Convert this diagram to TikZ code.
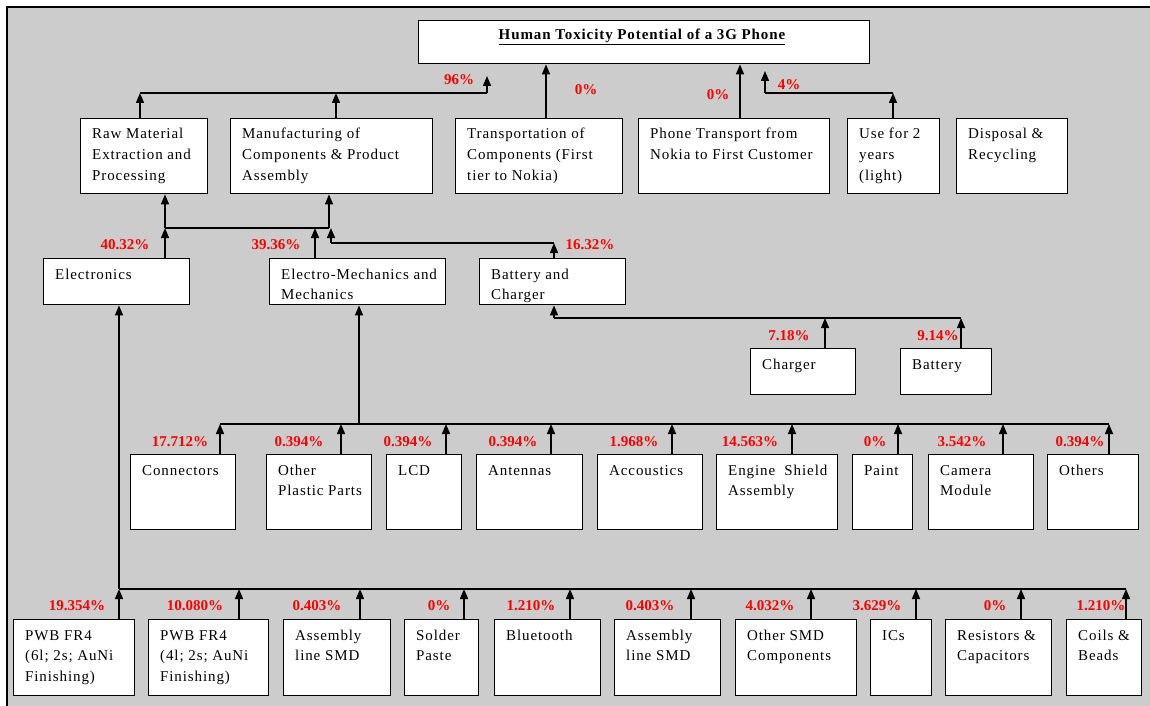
\documentclass[tikz,border=0pt]{standalone}
\usepackage{fontspec}
\setmainfont{Liberation Serif}[LetterSpace=6]
\newfontfamily\pctfont{Liberation Serif}
\usetikzlibrary{arrows.meta}
\definecolor{panel}{HTML}{CCCCCC}
\definecolor{pctred}{HTML}{FF0000}

% text block inside a box: first baseline is the anchor
\newcommand\boxtext[1]{\parbox[t]{240pt}{\raggedright\fontsize{15}{20.5}\selectfont #1}}

% a white box with its text set from the top left corner
% #1 name, #2 x, #3 y (top left), #4 width, #5 height, #6 text
\newcommand\blkbox[6]{%
  \node[blk, minimum width=#4pt, minimum height=#5pt] (#1) at (#2,#3) {};
  \node[anchor=base west, inner sep=0pt] (#1-txt) at ([xshift=12pt,yshift=-21pt]#1.north west) {\boxtext{#6}};
}

% stub from a box's top edge up to a bus line
% #1 box name, #2 offset from the box's left edge, #3 bus coordinate
\newcommand\feed[3]{%
  \coordinate (#1-in) at ([xshift=#2pt]#1.north west);
  \draw[up] (#1-in) -- (#1-in |- #3);
}

\tikzset{
  blk/.style={draw=black, fill=white, line width=1.4pt, anchor=north west, inner sep=0pt},
  pct/.style={text=pctred, font=\pctfont\bfseries\fontsize{15}{18}\selectfont, inner sep=0pt},
  wire/.style={line width=1.4pt},
  up/.style={wire, -{Triangle[length=10pt,width=8pt]}},
}

\begin{document}
\begin{tikzpicture}[x=1pt, y=-1pt]
\fill[white] (0,0) rectangle (1150,706);
\useasboundingbox (0,0) rectangle (1150,706);
\fill[panel] (8,8) rectangle (1150,706);
\draw[line width=2.5pt] (7,706) -- (7,7) -- (1150,7);

% ---- title ----
\node[blk, minimum width=451pt, minimum height=43pt] (title) at (418,20) {};
\node[anchor=base, inner sep=0pt, font=\bfseries\fontsize{15}{18}\selectfont] (title-txt) at (642,40)
  {\underline{Human Toxicity Potential of a 3G Phone}};

% ---- life-cycle stages ----
\blkbox{raw}{80}{118}{127}{75}{Raw Material\\Extraction and\\Processing}
\blkbox{manuf}{230}{118}{202}{75}{Manufacturing of\\Components \& Product\\Assembly}
\blkbox{trans}{455}{118}{167}{75}{Transportation of\\Components (First\\tier to Nokia)}
\blkbox{phone}{638}{118}{191}{75}{Phone Transport from\\Nokia to First Customer}
\blkbox{use}{847}{118}{92}{75}{Use for 2\\years\\(light)}
\blkbox{disp}{956}{118}{111}{75}{Disposal \&\\Recycling}

% ---- component groups ----
\blkbox{elec}{43}{258}{146}{46}{Electronics}
\blkbox{emech}{269}{258}{176}{46}{Electro-Mechanics and\\Mechanics}
\blkbox{batch}{479}{258}{146}{46}{Battery and\\Charger}

\blkbox{charger}{750}{348}{105}{46}{Charger}
\blkbox{battery}{900}{348}{91}{46}{Battery}

% ---- electro-mechanical parts ----
\blkbox{conn}{130}{454}{105}{75}{Connectors}
\blkbox{plast}{266}{454}{105}{75}{Other\\Plastic Parts}
\blkbox{lcd}{386}{454}{75}{75}{LCD}
\blkbox{ant}{476}{454}{106}{75}{Antennas}
\blkbox{acc}{597}{454}{105}{75}{Accoustics}
\blkbox{eng}{716}{454}{121}{75}{Engine\ \ Shield\\Assembly}
\blkbox{paint}{852}{454}{60}{75}{Paint}
\blkbox{cam}{928}{454}{105}{75}{Camera\\Module}
\blkbox{oth}{1047}{454}{91}{75}{Others}

% ---- electronic parts ----
\blkbox{pwba}{13}{619}{121}{76}{PWB FR4\\(6l; 2s; AuNi\\Finishing)}
\blkbox{pwbb}{148}{619}{120}{76}{PWB FR4\\(4l; 2s; AuNi\\Finishing)}
\blkbox{asma}{283}{619}{107}{76}{Assembly\\line SMD}
\blkbox{sold}{404}{619}{74}{76}{Solder\\Paste}
\blkbox{blue}{494}{619}{106}{76}{Bluetooth}
\blkbox{asmb}{614}{619}{106}{76}{Assembly\\line SMD}
\blkbox{smd}{735}{619}{121}{76}{Other SMD\\Components}
\blkbox{ics}{870}{619}{61}{76}{ICs}
\blkbox{res}{945}{619}{106}{76}{Resistors \&\\Capacitors}
\blkbox{coil}{1066}{619}{75}{76}{Coils \&\\Beads}

% ---- bus points ----
\coordinate (bus1L) at (140,93);
\coordinate (bus1R) at (487,93);
\coordinate (top96) at (487,76);
\coordinate (bus4u) at (893,93);
\coordinate (bus4uL) at (765,93);
\coordinate (top4) at (765,71);
\coordinate (bus2L) at (165,228);
\coordinate (bus2R) at (329,228);
\coordinate (batbusR) at (554,243);
\coordinate (batbusL) at (331,243);
\coordinate (bus3L) at (554,318);
\coordinate (bus3R) at (961,318);
\coordinate (bus4L) at (220,424);
\coordinate (bus4R) at (1109,424);
\coordinate (bus4J) at (359,424);
\coordinate (bus5L) at (119,589);
\coordinate (bus5R) at (1126,589);

% ---- stages to total ----
\feed{raw}{60}{bus1L}
\feed{manuf}{106}{bus1L}
\draw[wire] (bus1L) -- (bus1R);
\draw[up] (bus1R) -- (top96);
\feed{trans}{91}{title.south}
\feed{phone}{102}{title.south}
\feed{use}{46}{bus4u}
\draw[wire] (bus4u) -- (bus4uL);
\draw[up] (bus4uL) -- (top4);

% ---- groups to stages ----
\feed{elec}{122}{bus2L}
\feed{emech}{46}{bus2L}
\draw[wire] (bus2L) -- (bus2R);
\draw[up] (bus2L) -- (bus2L |- raw.south);
\draw[up] (bus2R) -- (bus2R |- manuf.south);
\feed{batch}{75}{batbusR}
\draw[wire] (batbusR) -- (batbusL);
\draw[up] (batbusL) -- (batbusL |- bus2L);

% ---- battery and charger ----
\feed{charger}{75}{bus3L}
\feed{battery}{61}{bus3L}
\draw[wire] (bus3L) -- (bus3R);
\draw[up] (bus3L) -- (bus3L |- batch.south);

% ---- electro-mechanics ----
\draw[wire] (bus4L) -- (bus4R);
\draw[up] (bus4J) -- (bus4J |- emech.south);
\feed{conn}{90}{bus4L}
\feed{plast}{75}{bus4L}
\feed{lcd}{60}{bus4L}
\feed{ant}{75}{bus4L}
\feed{acc}{75}{bus4L}
\feed{eng}{76}{bus4L}
\feed{paint}{46}{bus4L}
\feed{cam}{75}{bus4L}
\feed{oth}{62}{bus4L}

% ---- electronics ----
\draw[wire] (bus5L) -- (bus5R);
\draw[up] (bus5L) -- (bus5L |- elec.south);
\feed{pwba}{106}{bus5L}
\feed{pwbb}{91}{bus5L}
\feed{asma}{77}{bus5L}
\feed{sold}{60}{bus5L}
\feed{blue}{76}{bus5L}
\feed{asmb}{77}{bus5L}
\feed{smd}{76}{bus5L}
\feed{ics}{46}{bus5L}
\feed{res}{76}{bus5L}
\feed{coil}{60}{bus5L}

% ---- shares ----
\node[pct] (p-lc) at (459,80) {96\%};
\node[pct] (p-trans) at (586,90) {0\%};
\node[pct] (p-phone) at (718,95) {0\%};
\node[pct] (p-use) at (789,85) {4\%};

\node[pct] (p-elec) at (125,245) {40.32\%};
\node[pct] (p-emech) at (276,245) {39.36\%};
\node[pct] (p-batch) at (590,245) {16.32\%};

\node[pct] (p-charger) at (789,336) {7.18\%};
\node[pct] (p-battery) at (938,336) {9.14\%};

\node[pct] (p-conn) at (180,442) {17.712\%};
\node[pct] (p-plast) at (299,442) {0.394\%};
\node[pct] (p-lcd) at (408,442) {0.394\%};
\node[pct] (p-ant) at (513,442) {0.394\%};
\node[pct] (p-acc) at (634,442) {1.968\%};
\node[pct] (p-eng) at (750,442) {14.563\%};
\node[pct] (p-paint) at (875,442) {0\%};
\node[pct] (p-cam) at (962,442) {3.542\%};
\node[pct] (p-oth) at (1080,442) {0.394\%};

\node[pct] (p-pwba) at (77,606) {19.354\%};
\node[pct] (p-pwbb) at (195,606) {10.080\%};
\node[pct] (p-asma) at (317,606) {0.403\%};
\node[pct] (p-sold) at (439,606) {0\%};
\node[pct] (p-blue) at (531,606) {1.210\%};
\node[pct] (p-asmb) at (650,606) {0.403\%};
\node[pct] (p-smd) at (770,606) {4.032\%};
\node[pct] (p-ics) at (877,606) {3.629\%};
\node[pct] (p-res) at (995,606) {0\%};
\node[pct] (p-coil) at (1101,606) {1.210\%};
\end{tikzpicture}
\end{document}
